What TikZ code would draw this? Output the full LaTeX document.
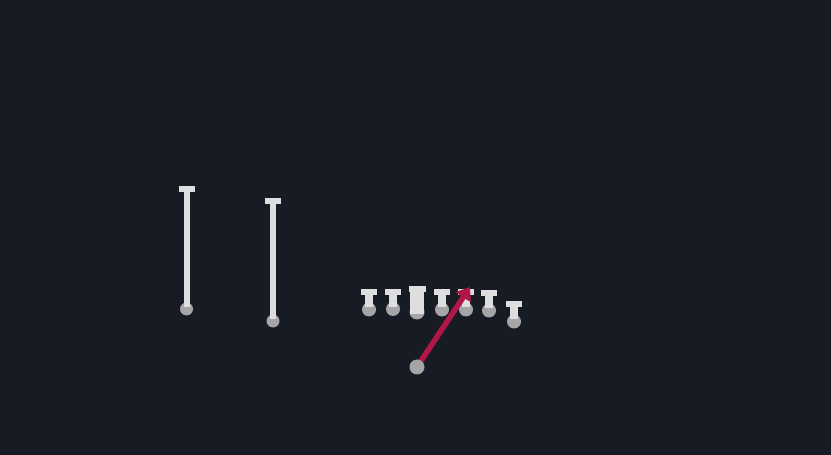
\documentclass[tikz,border=0pt]{standalone}
\usepackage{tikz}
\usetikzlibrary{arrows.meta}
\definecolor{bgdark}{RGB}{23,27,35}
\definecolor{pinwhite}{RGB}{222,222,224}
\definecolor{ballgray}{RGB}{165,165,168}
\definecolor{cuered}{RGB}{176,22,72}
% short pin: bar, stem and ball, (x, top of bar)
\def\shortpin(#1,#2){
	\fill[ballgray] (#1, #2+20) circle (7);
	\fill[pinwhite] (#1-8, #2) rectangle (#1+8, #2+6);
	\fill[pinwhite] (#1-4, #2+6) rectangle (#1+4, #2+18);
}
% long pin: (x, top of bar, bottom of stem)
\def\longpin(#1,#2,#3){
	\fill[ballgray] (#1, #3) circle (6.5);
	\fill[pinwhite] (#1-8, #2) rectangle (#1+8, #2+5.5);
	\fill[pinwhite] (#1-3, #2+5.5) rectangle (#1+3, #3-2);
}

\begin{document}
\begin{tikzpicture}[x=0.02cm, y=-0.02cm]
			%%%%% START %%%%%
			
			\fill[bgdark] (0, 0) rectangle (831, 455);
			\useasboundingbox (0, 0) rectangle (831, 455);
			
			\longpin(186.5, 186.5, 309)
			\longpin(273, 198.5, 321)
			
			\shortpin(369, 289.5)
			\shortpin(393, 289)
			\shortpin(442, 289.5)
			\shortpin(466, 289.5)
			\shortpin(489, 290.5)
			\shortpin(514, 301.5)
			
			\fill[ballgray] (417, 312) circle (7.5);
			\fill[pinwhite] (408.5, 286.5) rectangle (425.5, 292);
			\fill[pinwhite] (410, 292) rectangle (424, 314);
			
			\draw[cuered, line width=5.5*0.567pt, -{Triangle[length=7pt, width=10pt]}] (417, 367) -- (470, 287);
			\fill[ballgray] (417, 367) circle (7.5);
			
			%%%%% END %%%%%
		\end{tikzpicture}
\end{document}
